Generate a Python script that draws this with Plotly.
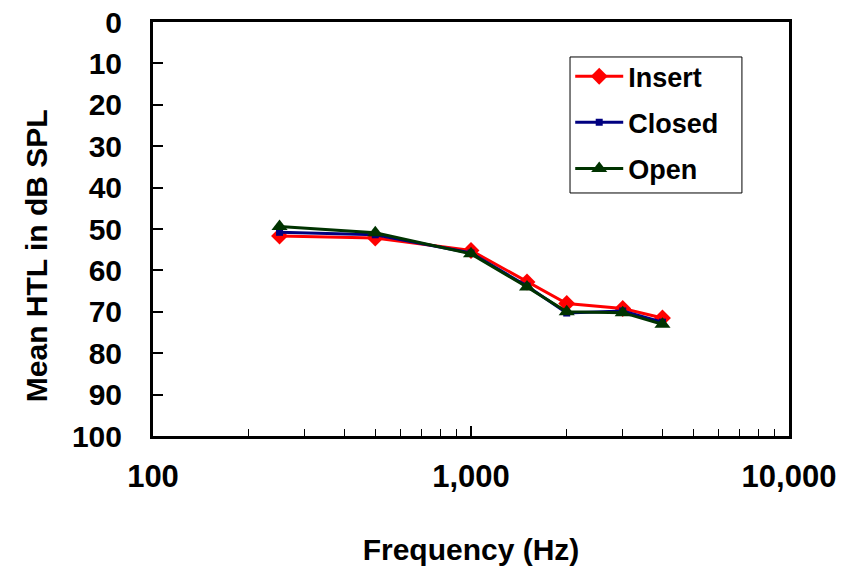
import plotly.graph_objects as go

freq = [250, 500, 1000, 1500, 2000, 3000, 4000]
insert = [51.7, 52.2, 55.2, 62.8, 68.0, 69.2, 71.5]
closed = [50.8, 51.4, 55.8, 63.8, 70.3, 69.8, 72.5]
open_ = [49.4, 50.9, 56.0, 64.0, 70.0, 70.2, 73.0]

x_tickvals = [100, 1000, 10000]
x_ticktext = ["100", "1,000", "10,000"]
y_tickvals = list(range(0, 101, 10))

FONT = "Arial, 'Liberation Sans', sans-serif"

fig = go.Figure()
fig.add_trace(go.Scatter(x=freq, y=insert, name="Insert", mode="lines+markers",
                         legendgroup="a",
                         line=dict(color="#FF0000", width=3),
                         marker=dict(symbol="diamond", size=13, color="#FF0000")))
fig.add_trace(go.Scatter(x=freq, y=closed, name="Closed", mode="lines+markers",
                         legendgroup="b",
                         line=dict(color="#000080", width=3),
                         marker=dict(symbol="square", size=7, color="#000080")))
fig.add_trace(go.Scatter(x=freq, y=open_, name="Open", mode="lines+markers",
                         legendgroup="c",
                         line=dict(color="#003300", width=3),
                         marker=dict(symbol="triangle-up", size=14, color="#003300")))

fig.update_layout(
    width=846, height=566,
    margin=dict(l=153, r=57, t=22, b=130),
    paper_bgcolor="white", plot_bgcolor="white",
    font=dict(family=FONT, size=22, color="black"),
    showlegend=True,
    legend=dict(x=0.656, y=0.927, xanchor="left", yanchor="top",
                borderwidth=0, bgcolor="rgba(0,0,0,0)",
                font=dict(family=FONT, size=27, color="black", weight="bold"),
                itemwidth=48, tracegroupgap=8, traceorder="grouped"),
    shapes=[dict(type="rect", xref="paper", yref="paper",
                 x0=0.6557, x1=0.926, y0=0.587, y1=0.9155,
                 line=dict(color="black", width=1), fillcolor="rgba(0,0,0,0)",
                 layer="above")],
    xaxis=dict(type="log", range=[2, 4], tickvals=x_tickvals, ticktext=x_ticktext,
               automargin=False,
               ticks="inside", ticklen=10, tickwidth=2, tickcolor="black",
               showline=True, linecolor="black", linewidth=3, mirror=True,
               showgrid=False, zeroline=False, ticklabelstandoff=11,
               tickfont=dict(family=FONT, size=31, weight="bold"),
               minor=dict(ticks="inside", ticklen=7, tickwidth=1, tickcolor="black",
                          dtick="D1", showgrid=False),
               title=dict(text="Frequency (Hz)", standoff=51,
                          font=dict(family=FONT, size=30, weight="bold"))),
    yaxis=dict(range=[100, 0], tickvals=y_tickvals,
               automargin=False,
               ticks="inside", ticklen=10, tickwidth=2, tickcolor="black",
               showline=True, linecolor="black", linewidth=3, mirror=True,
               showgrid=False, zeroline=False, ticklabelstandoff=22,
               tickfont=dict(family=FONT, size=30, weight="bold")),
    annotations=[dict(text="Mean HTL in dB SPL", textangle=-90, showarrow=False,
                      xref="paper", yref="paper", x=-0.182, y=0.435,
                      xanchor="center", yanchor="middle",
                      font=dict(family=FONT, size=30, color="black", weight="bold"))],
)

fig.write_html("out.html")
